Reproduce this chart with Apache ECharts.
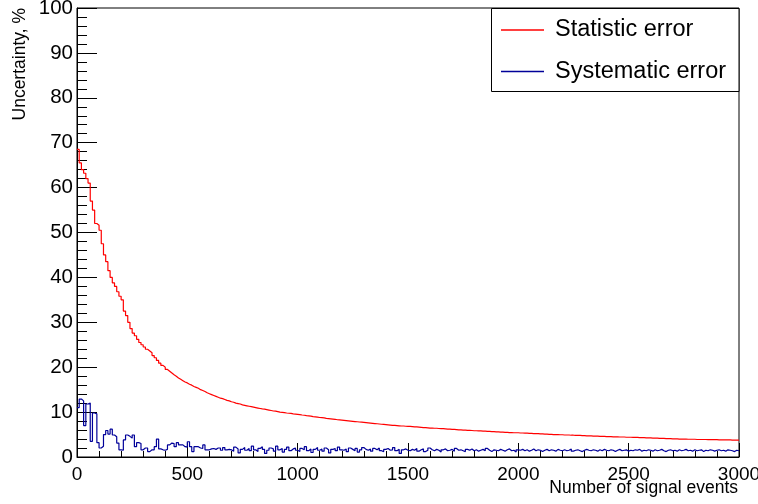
<!DOCTYPE html>
<html>
<head>
<meta charset="utf-8">
<script src="https://cdn.jsdelivr.net/npm/echarts@6/dist/echarts.min.js"></script>
<style>
  html, body { margin: 0; padding: 0; background: #fff; }
  #chart { width: 758px; height: 504px; }
</style>
</head>
<body>
<div id="chart"></div>
<script>
// Histogram binning: 300 bins of 10 signal events each, from 0 to 3000
const binStart = 0;
const binWidth = 10;
const xRange = [0, 3000];
const yRange = [0, 100];
const xTickStep = 500;
const yTickStep = 10;

const seriesNames = ['Statistic error', 'Systematic error'];
const axisTitles = { x: 'Number of signal events', y: 'Uncertainty, %' };

// Statistic error per bin, %
const statError = [
  68.5, 65.5, 64.0, 63.2, 62.0, 61.0, 57.0, 55.0, 52.0, 51.6,
  50.5, 47.5, 45.0, 43.5, 41.5, 40.0, 38.8, 38.0, 36.8, 35.8,
  35.0, 32.5, 31.5, 30.0, 28.6, 27.6, 27.0, 26.2, 25.5, 25.0,
  24.5, 24.0, 23.6, 23.2, 22.6, 22.1, 21.5, 20.9, 20.4, 20.0,
  19.5, 19.1, 18.7, 18.3, 18.0, 17.6, 17.3, 17.0, 16.7, 16.5,
  16.2, 16.0, 15.7, 15.5, 15.3, 15.0, 14.8, 14.6, 14.3, 14.1,
  13.9, 13.7, 13.5, 13.3, 13.1, 13.0, 12.8, 12.6, 12.5, 12.3,
  12.2, 12.0, 11.9, 11.8, 11.6, 11.5, 11.4, 11.3, 11.2, 11.1,
  11.0, 10.9, 10.8, 10.7, 10.65, 10.55, 10.45, 10.35, 10.25, 10.2,
  10.1, 10.0, 9.95, 9.9, 9.8, 9.75, 9.7, 9.6, 9.55, 9.5,
  9.45, 9.35, 9.3, 9.2, 9.15, 9.1, 9.0, 8.95, 8.9, 8.8,
  8.75, 8.7, 8.6, 8.55, 8.5, 8.45, 8.4, 8.3, 8.25, 8.2,
  8.15, 8.1, 8.05, 8.0, 7.95, 7.9, 7.85, 7.8, 7.75, 7.7,
  7.65, 7.6, 7.55, 7.5, 7.45, 7.4, 7.35, 7.3, 7.25, 7.2,
  7.15, 7.1, 7.05, 7.05, 7.0, 6.95, 6.9, 6.9, 6.85, 6.8,
  6.8, 6.75, 6.7, 6.7, 6.65, 6.6, 6.55, 6.55, 6.5, 6.45,
  6.45, 6.4, 6.4, 6.35, 6.3, 6.3, 6.25, 6.2, 6.2, 6.15,
  6.15, 6.1, 6.05, 6.05, 6.0, 6.0, 5.95, 5.95, 5.9, 5.85,
  5.85, 5.8, 5.8, 5.75, 5.75, 5.7, 5.7, 5.65, 5.65, 5.6,
  5.6, 5.55, 5.55, 5.5, 5.5, 5.45, 5.45, 5.4, 5.4, 5.4,
  5.35, 5.35, 5.3, 5.3, 5.25, 5.25, 5.2, 5.2, 5.2, 5.15,
  5.15, 5.1, 5.1, 5.05, 5.05, 5.0, 5.0, 5.0, 4.95, 4.95,
  4.9, 4.9, 4.9, 4.85, 4.85, 4.8, 4.8, 4.8, 4.75, 4.75,
  4.7, 4.7, 4.7, 4.65, 4.65, 4.65, 4.6, 4.6, 4.6, 4.55,
  4.55, 4.55, 4.5, 4.5, 4.5, 4.45, 4.45, 4.45, 4.4, 4.4,
  4.4, 4.35, 4.35, 4.35, 4.3, 4.3, 4.3, 4.25, 4.25, 4.25,
  4.2, 4.2, 4.2, 4.15, 4.15, 4.15, 4.1, 4.1, 4.1, 4.05,
  4.05, 4.05, 4.0, 4.0, 4.0, 4.0, 3.95, 3.95, 3.95, 3.95,
  3.9, 3.9, 3.9, 3.9, 3.9, 3.85, 3.85, 3.85, 3.85, 3.85,
  3.8, 3.8, 3.8, 3.8, 3.8, 3.8, 3.75, 3.75, 3.75, 3.75
];

// Systematic error per bin, %
const sysError = [
  11.0, 12.9, 12.5, 7.0, 11.8, 12.0, 3.5, 9.8, 9.6, 3.2,
  2.0, 2.4, 5.0, 5.9, 5.1, 6.2, 4.9, 4.5, 3.1, 1.6,
  1.5, 3.8, 4.9, 4.6, 4.2, 4.9, 2.3, 3.2, 3.0, 1.6,
  2.0, 2.0, 1.2, 1.6, 1.6, 2.3, 4.0, 1.8, 1.6, 1.5,
  1.7, 2.7, 3.1, 3.0, 2.3, 3.2, 2.7, 2.7, 2.3, 2.2,
  3.4, 2.3, 1.2, 2.3, 2.3, 2.0, 1.9, 2.7, 1.6, 1.6,
  1.8, 1.9, 1.7, 2.0, 2.0, 1.5, 2.1, 1.6, 1.7, 1.6,
  1.3, 2.2, 1.8, 0.9, 1.7, 2.1, 1.5, 1.9, 1.4, 2.4,
  1.6, 1.2, 1.9, 2.3, 1.7, 0.8, 1.5, 2.0, 1.8, 1.3,
  2.4, 1.6, 1.9, 1.1, 1.7, 2.2, 1.4, 1.8, 2.0, 1.5,
  1.2, 1.9, 1.6, 2.3, 1.4, 1.8, 1.0, 1.7, 2.1, 1.5,
  1.8, 1.3, 2.0, 1.6, 0.9, 1.7, 1.9, 1.4, 2.2, 1.6,
  1.5, 1.8, 1.2, 2.0, 1.7, 1.4, 1.9, 1.1, 1.6, 2.1,
  1.7, 1.5, 1.8, 1.3, 1.9, 1.6, 2.0, 1.4, 1.2, 1.7,
  1.9, 1.5, 1.6, 2.1, 1.4, 1.7, 0.8, 1.6, 1.8, 1.5,
  1.4, 1.7, 1.5, 1.9, 1.3, 1.6, 1.8, 1.2, 1.5, 2.0,
  1.6, 1.4, 1.7, 1.5, 1.1, 1.6, 1.8, 1.4, 1.5, 1.7,
  1.3, 1.9, 1.5, 1.6, 1.4, 1.2, 1.7, 1.5, 1.8, 1.4,
  1.6, 1.3, 1.5, 1.7, 1.4, 1.9, 1.5, 1.2, 1.6, 1.5,
  1.4, 1.7, 1.5, 1.3, 1.6, 1.8, 1.4, 1.5, 1.1, 1.6,
  1.5, 1.7, 1.4, 1.6, 1.3, 1.5, 1.8, 1.4, 1.6, 1.5,
  1.2, 1.5, 1.7, 1.4, 1.6, 1.5, 1.3, 1.7, 1.5, 1.4,
  1.6, 1.4, 1.5, 1.8, 1.3, 1.5, 1.6, 1.4, 1.2, 1.5,
  1.7, 1.5, 1.4, 1.6, 1.5, 1.3, 1.6, 1.4, 1.7, 1.5,
  1.4, 1.6, 1.5, 1.2, 1.5, 1.7, 1.4, 1.5, 1.6, 1.3,
  1.5, 1.4, 1.6, 1.5, 1.7, 1.3, 1.5, 1.4, 1.6, 1.5,
  1.3, 1.6, 1.4, 1.5, 1.7, 1.4, 1.2, 1.5, 1.6, 1.4,
  1.5, 1.3, 1.6, 1.4, 1.5, 1.7, 1.4, 1.5, 1.3, 1.6,
  1.4, 1.5, 1.6, 1.2, 1.5, 1.4, 1.6, 1.5, 1.3, 1.5,
  1.6, 1.4, 1.5, 1.3, 1.6, 1.5, 1.4, 1.2, 1.5, 1.4
];

// Turn bin contents into step outline points: [lowEdge, content], closed at the last high edge
function histOutline(values) {
  const pts = values.map((v, i) => [binStart + i * binWidth, v]);
  pts.push([binStart + values.length * binWidth, values[values.length - 1]]);
  return pts;
}

const FONT = 'Liberation Sans, Arial, Helvetica, sans-serif';
const chart = echarts.init(document.getElementById('chart'), null, { renderer: 'canvas' });

chart.setOption({
  backgroundColor: '#ffffff',
  animation: false,
  grid: {
    left: 77, right: 19, top: 8, bottom: 47,
    containLabel: false,
    outerBoundsMode: 'none',
    show: true,
    borderColor: '#000',
    borderWidth: 1,
    backgroundColor: 'transparent'
  },
  xAxis: {
    type: 'value',
    min: xRange[0], max: xRange[1], interval: xTickStep,
    axisLine: { show: true, onZero: false, lineStyle: { color: '#000', width: 1 } },
    axisTick: { show: true, inside: true, length: 14, lineStyle: { color: '#000', width: 1 } },
    minorTick: { show: true, splitNumber: 5, length: 6, lineStyle: { color: '#000', width: 1 } },
    splitLine: { show: false },
    minorSplitLine: { show: false },
    axisLabel: {
      color: '#000', fontSize: 19, fontFamily: FONT, margin: 8,
      hideOverlap: false, showMinLabel: true, showMaxLabel: true,
      formatter: v => String(v)
    }
  },
  yAxis: {
    type: 'value',
    min: yRange[0], max: yRange[1], interval: yTickStep,
    axisLine: { show: true, onZero: false, lineStyle: { color: '#000', width: 1 } },
    axisTick: { show: true, inside: true, length: 20, lineStyle: { color: '#000', width: 1 } },
    minorTick: { show: true, splitNumber: 5, length: 10, lineStyle: { color: '#000', width: 1 } },
    splitLine: { show: false },
    minorSplitLine: { show: false },
    axisLabel: {
      color: '#000', fontSize: 20.5, fontFamily: FONT, margin: 4,
      showMinLabel: true, showMaxLabel: true,
      formatter: v => String(v)
    }
  },
  legend: {
    data: seriesNames,
    orient: 'vertical',
    left: 491, top: 8,
    padding: [10, 5, 5, 10],
    itemGap: 17.5,
    itemWidth: 43,
    itemHeight: 1.5,
    icon: 'rect',
    z: 5,
    textStyle: { color: '#000', fontSize: 23.5, fontFamily: FONT, padding: [7, 0, 0, 6] }
  },
  graphic: [
    {
      type: 'rect', z: 4,
      shape: { x: 491.5, y: 8.5, width: 247.5, height: 83 },
      style: { fill: '#fff', stroke: '#000', lineWidth: 1 }
    },
    {
      type: 'text', x: 738, y: 488,
      style: { text: axisTitles.x, fill: '#000', font: '17.5px ' + FONT, align: 'right', verticalAlign: 'middle' }
    },
    {
      type: 'text', x: 20, y: 8, rotation: Math.PI / 2,
      style: { text: axisTitles.y, fill: '#000', font: '17.5px ' + FONT, align: 'right', verticalAlign: 'middle' }
    }
  ],
  series: [
    {
      name: seriesNames[0], type: 'line', step: 'end',
      data: histOutline(statError),
      showSymbol: false, symbol: 'none',
      color: '#ff0000',
      lineStyle: { color: '#ff0000', width: 1.2 },
      z: 3
    },
    {
      name: seriesNames[1], type: 'line', step: 'end',
      data: histOutline(sysError),
      showSymbol: false, symbol: 'none',
      color: '#000099',
      lineStyle: { color: '#000099', width: 1.2 },
      z: 3
    }
  ]
});
</script>
</body>
</html>
